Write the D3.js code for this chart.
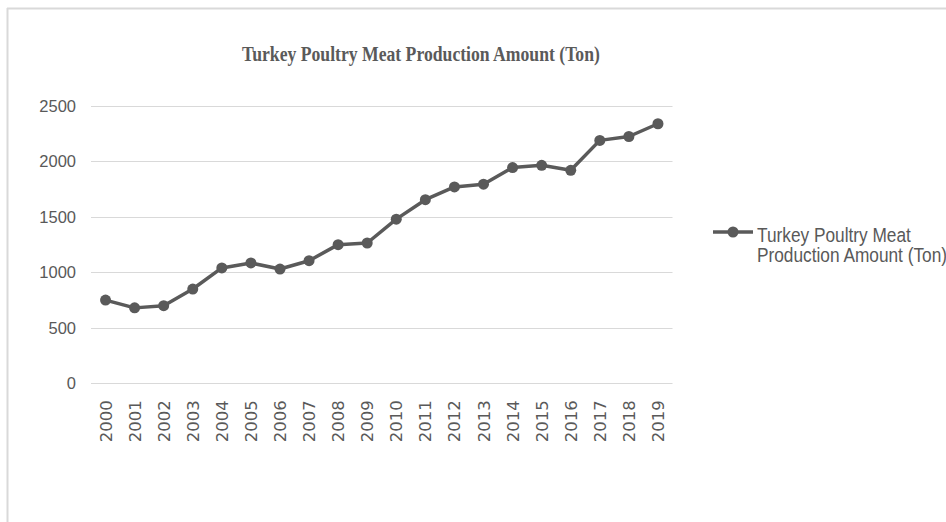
<!DOCTYPE html>
<html>
<head>
<meta charset="utf-8">
<script src="https://cdn.jsdelivr.net/npm/d3@7"></script>
<style>
  html, body { margin: 0; padding: 0; background: #fff; }
  svg { display: block; }
</style>
</head>
<body>
<svg id="chart" width="946" height="522"></svg>
<script>
const years = ["2000","2001","2002","2003","2004","2005","2006","2007","2008","2009",
               "2010","2011","2012","2013","2014","2015","2016","2017","2018","2019"];
const production = [750, 680, 700, 850, 1040, 1085, 1030, 1105, 1250, 1265,
                     1480, 1655, 1770, 1795, 1945, 1965, 1920, 2190, 2225, 2340];
const yTicks = [0, 500, 1000, 1500, 2000, 2500];
const titleText = "Turkey Poultry Meat Production Amount (Ton)";
const legendLines = ["Turkey Poultry Meat", "Production Amount (Ton)"];

const svg = d3.select("#chart");
const W = 946, H = 522;
const margin = { left: 91, right: W - 672.5, top: 106, bottom: H - 383.3 };

// outer frame
svg.append("line").attr("x1", 7).attr("x2", W).attr("y1", 8.5).attr("y2", 8.5)
  .attr("stroke", "#d9d9d9").attr("stroke-width", 2);
svg.append("line").attr("x1", 7.5).attr("x2", 7.5).attr("y1", 8).attr("y2", H)
  .attr("stroke", "#d9d9d9").attr("stroke-width", 2);

const x = d3.scaleBand().domain(years).range([margin.left, W - margin.right]).padding(0);
const y = d3.scaleLinear().domain([0, 2500]).range([H - margin.bottom, margin.top]);

// gridlines
svg.append("g").selectAll("line").data(yTicks).join("line")
  .attr("x1", margin.left).attr("x2", W - margin.right)
  .attr("y1", d => Math.round(y(d)) + 0.5).attr("y2", d => Math.round(y(d)) + 0.5)
  .attr("stroke", "#d9d9d9").attr("stroke-width", 1);

// y axis labels
const yAxis = d3.axisLeft(y).tickValues(yTicks).tickFormat(d3.format("d")).tickSize(0).tickPadding(0);
const gy = svg.append("g").attr("transform", `translate(76,0)`).call(yAxis);
gy.select(".domain").remove();
gy.selectAll("text")
  .attr("font-family", "'Liberation Sans', Arial, sans-serif")
  .attr("font-size", 16.5).attr("fill", "#595959");

// x axis labels
const xAxis = d3.axisBottom(x).tickSize(0).tickPadding(0);
const gx = svg.append("g").attr("transform", `translate(0,${H - margin.bottom})`).call(xAxis);
gx.select(".domain").remove();
gx.selectAll("text")
  .attr("font-family", "'DejaVu Sans', sans-serif")
  .attr("font-size", 16.5).attr("fill", "#595959")
  .attr("text-anchor", "end")
  .attr("dy", null).attr("y", 0)
  .attr("transform", "translate(6,17) rotate(-90)");

// line
const lineColor = "#5a5a5a";
const line = d3.line().x((d, i) => x(years[i]) + x.bandwidth() / 2).y(d => y(d));
svg.append("path").datum(production)
  .attr("d", line).attr("fill", "none")
  .attr("stroke", lineColor).attr("stroke-width", 3.5).attr("stroke-linejoin", "round");
svg.append("g").selectAll("circle").data(production).join("circle")
  .attr("cx", (d, i) => x(years[i]) + x.bandwidth() / 2)
  .attr("cy", d => y(d)).attr("r", 5.5).attr("fill", lineColor);

// title
const title = svg.append("text")
  .attr("font-family", "'Liberation Serif', 'Times New Roman', serif")
  .attr("font-weight", "bold").attr("font-size", 20).attr("fill", "#5a5a5a")
  .attr("x", 0).attr("y", 0).text(titleText);
const tw = title.node().getComputedTextLength();
const tsx = 358 / tw;
title.attr("transform", `translate(242,61) scale(${tsx},1)`);

// legend
const lg = svg.append("g");
lg.append("line").attr("x1", 713).attr("x2", 753).attr("y1", 232).attr("y2", 232)
  .attr("stroke", lineColor).attr("stroke-width", 3.5);
lg.append("circle").attr("cx", 733).attr("cy", 232).attr("r", 5.5).attr("fill", lineColor);
const lt = lg.append("g");
const ltexts = lt.selectAll("text").data(legendLines).join("text")
  .attr("font-family", "'Liberation Sans', Arial, sans-serif")
  .attr("font-size", 19.5).attr("fill", "#595959")
  .attr("x", 0).attr("y", (d, i) => i * 20.5).text(d => d);
const lw = ltexts.nodes()[0].getComputedTextLength();
const lsx = 154 / lw;
lt.attr("transform", `translate(757,241.5) scale(${lsx},1)`);
</script>
</body>
</html>
